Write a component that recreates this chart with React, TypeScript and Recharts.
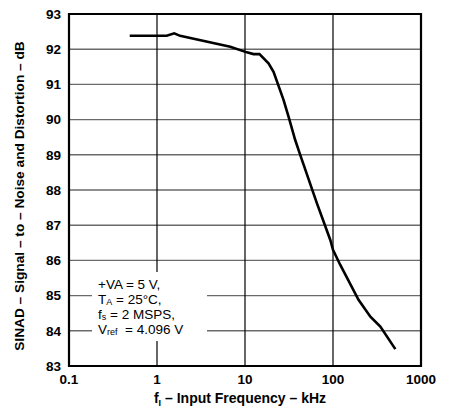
import {
  LineChart,
  Line,
  XAxis,
  YAxis,
  CartesianGrid,
  ReferenceLine,
  ReferenceArea,
} from 'recharts';

// frequency in kHz, SINAD in dB
const freqs = [
  0.49, 1.29, 1.57, 1.83, 6.8, 10.5, 12.5, 14.6, 18.5, 21.1, 27.4, 31.3, 37.2,
  42.5, 65.7, 93.2, 100, 121, 195, 266, 345, 511,
];
const sinad = [
  92.38, 92.38, 92.45, 92.38, 92.07, 91.91, 91.86, 91.86, 91.6, 91.36, 90.56,
  90.08, 89.42, 88.99, 87.62, 86.58, 86.3, 85.87, 84.88, 84.4, 84.12, 83.48,
];
const xTicks = [0.1, 1, 10, 100, 1000];
const yTicks = [83, 84, 85, 86, 87, 88, 89, 90, 91, 92, 93];
const decadeLines = [1, 10, 100];

const data = freqs.map((f, i) => ({ f, v: sinad[i] }));

const font = 'Liberation Sans, Arial, Helvetica, sans-serif';

const subStyle = {
  fontSize: 9,
  lineHeight: '9px',
  position: 'relative' as const,
  top: 1,
};

export default function App() {
  return (
    <div
      style={{
        position: 'absolute',
        left: 0,
        top: 0,
        width: 453,
        height: 409,
        background: '#fff',
        fontFamily: font,
      }}
    >
      <LineChart
        width={453}
        height={409}
        data={data}
        margin={{ top: 14, right: 32, bottom: 0, left: 0 }}
      >
        <CartesianGrid vertical={false} stroke="#6a6a6a" strokeWidth={1.4} />
        {decadeLines.map((d) => (
          <ReferenceLine key={d} x={d} stroke="#000" strokeWidth={1.2} />
        ))}
        <XAxis
          dataKey="f"
          type="number"
          scale="log"
          domain={[0.1, 1000]}
          ticks={xTicks}
          allowDataOverflow
          height={43}
          axisLine={false}
          tickLine={false}
          tickSize={0}
          tickMargin={8}
          tick={{ fill: '#000', fontSize: 13.5, fontWeight: 700, fontFamily: font }}
          tickFormatter={(v: number) => String(v)}
          interval={0}
        />
        <YAxis
          type="number"
          domain={[83, 93]}
          ticks={yTicks}
          width={69}
          axisLine={false}
          tickLine={false}
          tickSize={0}
          tickMargin={8}
          tick={{ fill: '#000', fontSize: 13.5, fontWeight: 700, fontFamily: font }}
          interval={0}
        />
        <ReferenceArea
          x1={0.1}
          x2={1000}
          y1={83}
          y2={93}
          fill="none"
          fillOpacity={0}
          stroke="#000"
          strokeWidth={2.2}
          ifOverflow="visible"
        />
        <Line
          dataKey="v"
          type="linear"
          stroke="#000"
          strokeWidth={2.6}
          dot={false}
          isAnimationActive={false}
        />
      </LineChart>

      {/* y axis title */}
      <div
        style={{
          position: 'absolute',
          left: 19,
          top: 196,
          transform: 'translate(-50%, -50%) rotate(-90deg)',
          whiteSpace: 'nowrap',
          fontSize: 13.7,
          fontWeight: 700,
          color: '#000',
        }}
      >
        SINAD – Signal – to – Noise and Distortion – dB
      </div>

      {/* x axis title */}
      <div
        style={{
          position: 'absolute',
          left: 240,
          top: 398,
          transform: 'translate(-50%, -50%)',
          whiteSpace: 'nowrap',
          fontSize: 14,
          fontWeight: 700,
          color: '#000',
          lineHeight: '16px',
        }}
      >
        f<span style={{ ...subStyle, top: 3 }}>I</span> – Input Frequency – kHz
      </div>

      {/* conditions box */}
      <div
        style={{
          position: 'absolute',
          left: 92,
          top: 272,
          width: 115,
          height: 69,
          background: '#fff',
          paddingLeft: 6,
          paddingTop: 5,
          boxSizing: 'border-box',
          fontSize: 13.5,
          lineHeight: '15px',
          color: '#000',
          whiteSpace: 'nowrap',
        }}
      >
        <div>+VA = 5 V,</div>
        <div>
          T<span style={subStyle}>A</span> = 25°C,
        </div>
        <div>
          f<span style={subStyle}>s</span> = 2 MSPS,
        </div>
        <div>
          V<span style={subStyle}>ref</span>&nbsp; = 4.096 V
        </div>
      </div>
    </div>
  );
}
